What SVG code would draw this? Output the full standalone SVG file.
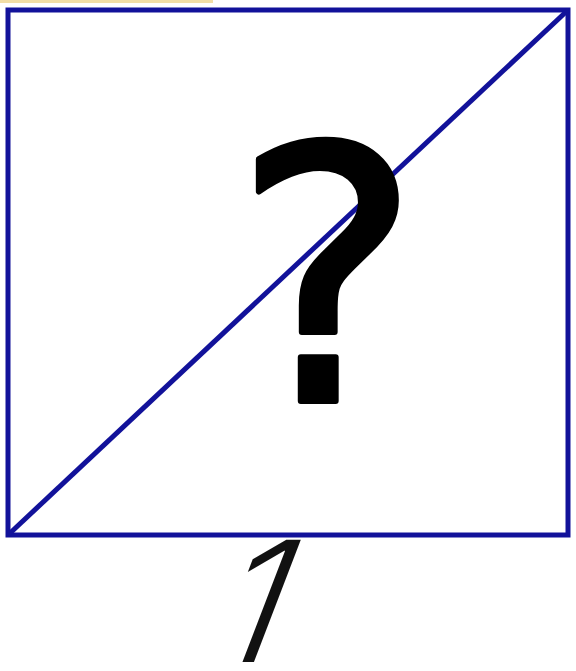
<svg xmlns="http://www.w3.org/2000/svg" width="576" height="671" viewBox="0 0 576 671">
<style>
.frame{fill:none;stroke:#12129a;stroke-width:5}
.q{font-family:"DejaVu Sans",sans-serif;font-size:352px;fill:#000;stroke:#000;stroke-width:6;stroke-linejoin:round}
.num{font-family:Inter,"Liberation Sans",sans-serif;font-weight:300;font-size:168px;fill:#111}
</style>
<rect x="0" y="0" width="576" height="671" fill="#ffffff"/>
<rect x="0" y="0" width="213" height="3" fill="#f2dea6"/>
<g id="box">
<rect class="frame" x="8" y="10" width="560" height="525"/>
</g>
<g id="connectors">
<line class="frame" x1="8" y1="535" x2="568" y2="10" stroke-width="4"/>
</g>
<g id="question">
<text class="q" x="327" y="401" text-anchor="middle">?</text>
</g>
<g id="label">
<text class="num" x="0" y="0" transform="translate(237,662) skewX(-21)" text-anchor="middle">1</text>
</g>
</svg>
